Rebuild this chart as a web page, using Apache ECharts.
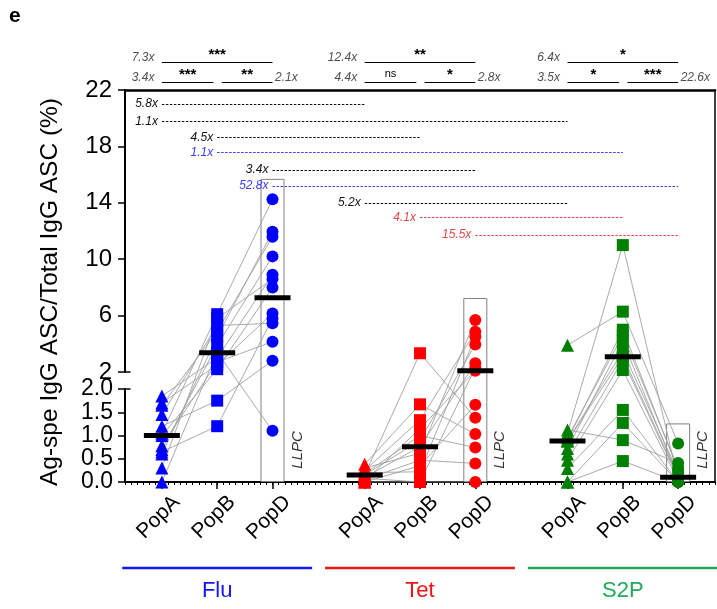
<!DOCTYPE html>
<html>
<head>
<meta charset="utf-8">
<script src="https://cdn.jsdelivr.net/npm/echarts@6.0.0/dist/echarts.min.js"></script>
<style>
  html, body { margin: 0; padding: 0; background: #fff; }
  #chart { width: 717px; height: 609px; }
</style>
</head>
<body>
<div id="chart"></div>
<script>
// ---- values ----
const groups = ["Flu", "Tet", "S2P"];
const pops = ["PopA", "PopB", "PopD"];

// one entry per donor, same donor order in A / B / D
const fluA = [1.85, 1.7, 1.65, 1.45, 1.2, 1.05, 1.0, 0.78, 0.7, 0.65, 0.6, 0.3, 0.0];
const fluB = [3.0, 2.5, 4.9, 5.3, 1.75, 6.1, 2.2, 2.7, 3.9, 1.2, 4.5, 5.8, 3.4];
const fluD = [8.9, 6.15, 11.6, 5.45, 2.8, 14.25, 8.0, 4.15, 10.2, 5.8, 11.95, 8.6, 1.1];

const tetA = [0.15, 0.38, 0.3, 0.25, 0.2, 0.18, 0.15, 0.1, 0.08, 0.05, 0.02, 0, 0];
const tetB = [3.33, 1.67, 0.62, 1.33, 0.22, 1.0, 0.9, 0.76, 0.0, 0.47, 1.15, 0.35, 0];
const tetD = [1.38, 1.03, 5.69, 4.85, 4.5, 0.74, 3.95, 2.62, 2.3, 0.4, 2.09, 1.66, 0];

const s2pA = [3.9, 1.12, 1.05, 0.95, 0.9, 0.88, 0.88, 0.72, 0.6, 0.47, 0.29, 0, 0];
const s2pB = [6.28, 0.9, 11.0, 4.6, 5.0, 3.5, 3.09, 4.2, 2.85, 2.14, 1.55, 1.27, 0.45];
const s2pD = [0.83, 0.41, 0.05, 0.3, 0.26, 0.2, 0.11, 0.1, 0.08, 0.03, 0, 0, 0];

// median bars
const medFlu = [1.0, 3.37, 7.27];
const medTet = [0.15, 0.76, 2.09];
const medS2P = [0.88, 3.09, 0.1];

// LLPC box heights
const llpcTop = [15.7, 7.25, 1.26];

// dashed comparisons between antigens: [group, pop] -> [group, pop]
const crossFold = ["5.8x", "1.1x", "4.5x", "1.1x", "3.4x", "52.8x", "5.2x", "4.1x", "15.5x"];
const crossFrom = [[0, 0], [0, 0], [0, 1], [0, 1], [0, 2], [0, 2], [1, 0], [1, 1], [1, 2]];
const crossTo   = [[1, 0], [2, 0], [1, 1], [2, 1], [1, 2], [2, 2], [2, 0], [2, 1], [2, 2]];

// brackets above the plot, one per antigen
const topFold = ["7.3x", "12.4x", "6.4x"];
const topStars = ["***", "**", "*"];
const abFold = ["3.4x", "4.4x", "3.5x"];
const abStars = ["***", "ns", "*"];
const bdFold = ["2.1x", "2.8x", "22.6x"];
const bdStars = ["**", "*", "***"];

// ---- layout / style ----
const FONT = "Liberation Sans, Arial, sans-serif";
const dotColors = ["#0000ff", "#ff0000", "#008000"];
const groupColors = ["#1414f0", "#f01414", "#20a85a"];
const crossColors = ["#111", "#111", "#111", "#3b3bff", "#111", "#3b3bff", "#111", "#e04848", "#e04848"];
const crossY = [21.0, 19.75, 18.65, 17.55, 16.33, 15.19, 14.0, 12.97, 11.72];
const shapes = ["triangle", "rect", "circle"];
const slot = [[0, 3, 6], [11, 14, 17], [22, 25, 28]]; // x slots, 1 unit = 1/3 of a column step
const xMin = -2, xMax = 30;
const L = 125, W = 590;
const LOW_H = 93, GAP_H = 17, UP_H = 282; // broken axis: 0-2 / gap / 2-22

// broken y scale used for marks that cross the break
function brk(v) {
  return v <= 2 ? v / 2 * LOW_H : LOW_H + GAP_H + (v - 2) / 20 * UP_H;
}

const values = [[fluA, fluB, fluD], [tetA, tetB, tetD], [s2pA, s2pB, s2pD]];
const medians = [medFlu, medTet, medS2P];
const flatSlots = [].concat(...slot);
const labelShift = 0.8;

const chart = echarts.init(document.getElementById("chart"));
const series = [];

// LLPC boxes
series.push({
  type: "bar", xAxisIndex: 2, yAxisIndex: 2, barWidth: 24, silent: true, z: 1,
  itemStyle: { color: "rgba(0,0,0,0)", borderColor: "#808080", borderWidth: 1 },
  data: groups.map((g, gi) => [slot[gi][2], brk(llpcTop[gi])]),
});

// donor lines
values.forEach((vals, gi) => {
  vals[0].forEach((_, si) => {
    series.push({
      type: "line", xAxisIndex: 2, yAxisIndex: 2, symbol: "none", silent: true, z: 2,
      lineStyle: { color: "#a0a0a0", width: 0.9 },
      data: vals.map((arr, pi) => [slot[gi][pi], brk(arr[si])]),
    });
  });
});

// points, split between the two panels
values.forEach((vals, gi) => {
  vals.forEach((arr, pi) => {
    const up = arr.filter((v) => v > 2);
    const lo = arr.filter((v) => v <= 2);
    [[up, 0], [lo, 1]].forEach(([list, ax]) => {
      if (!list.length) return;
      series.push({
        type: "scatter", xAxisIndex: ax, yAxisIndex: ax, symbol: shapes[pi],
        symbolSize: pi === 0 ? 13 : 12, clip: false, z: 3, silent: true,
        itemStyle: { color: dotColors[gi], opacity: 1 },
        data: list.map((v) => [slot[gi][pi], v]),
      });
    });
    const m = medians[gi][pi];
    const ax = m > 2 ? 0 : 1;
    series.push({
      type: "scatter", xAxisIndex: ax, yAxisIndex: ax, symbol: "rect",
      symbolSize: [36, 5], clip: false, z: 5, silent: true,
      itemStyle: { color: "#000", opacity: 1 },
      data: [[slot[gi][pi], m]],
    });
  });
});

// LLPC text
series.push({
  type: "scatter", xAxisIndex: 1, yAxisIndex: 1, symbolSize: 1, silent: true, z: 4,
  itemStyle: { color: "rgba(0,0,0,0)" },
  label: {
    show: true, position: "inside", formatter: "LLPC", rotate: 90,
    fontStyle: "italic", fontSize: 15, color: "#000", fontFamily: FONT,
  },
  data: groups.map((g, gi) => [slot[gi][2] + 1.35, 0.69]),
});

// dashed comparisons
series.push({
  type: "line", xAxisIndex: 0, yAxisIndex: 0, data: [], silent: true,
  markLine: {
    silent: true, symbol: ["none", "none"], animation: false,
    lineStyle: { type: [2.5, 1.5], width: 1 },
    label: { position: "start", distance: 4, fontStyle: "italic", fontSize: 12, fontFamily: FONT },
    data: crossFold.map((t, i) => [
      {
        coord: [slot[crossFrom[i][0]][crossFrom[i][1]], crossY[i]],
        lineStyle: { color: crossColors[i] },
        label: { formatter: t, color: crossColors[i] },
      },
      { coord: [slot[crossTo[i][0]][crossTo[i][1]], crossY[i]] },
    ]),
  },
});

// axis break caps
[0, 1].forEach((ax) => {
  series.push({
    type: "line", xAxisIndex: ax, yAxisIndex: ax, data: [], silent: true,
    markLine: {
      silent: true, symbol: ["none", "none"], animation: false,
      lineStyle: { type: "solid", width: 1.5, color: "#000" }, label: { show: false },
      data: [[{ coord: [xMin, 2] }, { coord: [xMin + 0.3, 2] }]],
    },
  });
});

// brackets above the plot
const bracketLines = [];
groups.forEach((g, gi) => {
  const [a, b, d] = slot[gi];
  const starLabel = (s) => ({
    formatter: s,
    fontSize: s === "ns" ? 11 : 15,
    fontWeight: s === "ns" ? "normal" : "bold",
    distance: s === "ns" ? 3 : 0,
  });
  bracketLines.push([{ coord: [a, 1], label: starLabel(topStars[gi]) }, { coord: [d, 1] }]);
  bracketLines.push([{ coord: [a, 0], label: starLabel(abStars[gi]) }, { coord: [b - 0.2, 0] }]);
  bracketLines.push([{ coord: [b + 0.25, 0], label: starLabel(bdStars[gi]) }, { coord: [d, 0] }]);
});
series.push({
  type: "line", xAxisIndex: 3, yAxisIndex: 3, data: [], silent: true,
  markLine: {
    silent: true, symbol: ["none", "none"], animation: false,
    lineStyle: { type: "solid", width: 1, color: "#000" },
    label: { position: "middle", color: "#000", fontFamily: FONT },
    data: bracketLines,
  },
});
const foldLabel = (pos, dist) => ({
  show: true, position: pos, distance: dist, offset: [0, -4],
  fontStyle: "italic", fontSize: 12, color: "#222", fontFamily: FONT,
  formatter: (p) => p.data[2],
});
series.push({
  type: "scatter", xAxisIndex: 3, yAxisIndex: 3, symbolSize: 1, silent: true,
  itemStyle: { color: "rgba(0,0,0,0)" }, label: foldLabel("left", 7),
  data: groups.flatMap((g, gi) => [[slot[gi][0], 1, topFold[gi]], [slot[gi][0], 0, abFold[gi]]]),
});
series.push({
  type: "scatter", xAxisIndex: 3, yAxisIndex: 3, symbolSize: 1, silent: true,
  itemStyle: { color: "rgba(0,0,0,0)" }, label: foldLabel("right", 2),
  data: groups.map((g, gi) => [slot[gi][2], 0, bdFold[gi]]),
});

const hiddenX = (gridIndex, extra) => Object.assign({
  type: "value", gridIndex, min: xMin, max: xMax,
  axisLine: { show: false, onZero: false }, axisTick: { show: false }, axisLabel: { show: false }, splitLine: { show: false },
}, extra);

const yStyle = {
  axisLine: { show: true, onZero: false, lineStyle: { color: "#000", width: 2 } },
  axisTick: { show: true, length: 7, lineStyle: { color: "#000", width: 1.5 } },
  splitLine: { show: false },
};

chart.setOption({
  animation: false,
  textStyle: { fontFamily: FONT },
  grid: [
    { left: L, top: 90, width: W, height: UP_H },
    { left: L, top: 90 + UP_H + GAP_H, width: W, height: LOW_H },
    { left: L, top: 90, width: W, height: LOW_H + GAP_H + UP_H },
    { left: L, top: 62, width: W, height: 20 },
  ],
  xAxis: [
    hiddenX(0, { position: "top", axisLine: { show: true, onZero: false, lineStyle: { color: "#000", width: 2.5 } } }),
    hiddenX(1, {
      position: "bottom", interval: 1,
      axisLine: { show: true, onZero: false, lineStyle: { color: "#000", width: 2 } },
      axisTick: { show: true, length: 3, lineStyle: { color: "#000", width: 1 } },
      minorTick: { show: true, splitNumber: 3, length: 3, lineStyle: { color: "#000", width: 1 } },
      axisLabel: {
        show: true, rotate: 45, margin: 17, fontSize: 21, color: "#000", fontFamily: FONT,
        customValues: flatSlots.map((s) => s + labelShift),
        formatter: (v) => {
          const i = flatSlots.findIndex((s) => Math.abs(s + labelShift - v) < 0.01);
          return i < 0 ? "" : pops[i % 3];
        },
      },
    }),
    hiddenX(2, {
      position: "bottom",
      axisTick: { show: true, customValues: flatSlots, length: 7, lineStyle: { color: "#000", width: 1.5 } },
    }),
    hiddenX(3, { position: "bottom" }),
  ],
  yAxis: [
    Object.assign({
      type: "value", gridIndex: 0, min: 2, max: 22, interval: 4,
      axisLabel: { fontSize: 24, margin: 13, color: "#000", fontFamily: FONT },
    }, yStyle),
    Object.assign({
      type: "value", gridIndex: 1, min: 0, max: 2, interval: 0.5,
      axisLabel: { fontSize: 23, margin: 12, color: "#000", fontFamily: FONT, formatter: (v) => v.toFixed(1) },
    }, yStyle),
    {
      type: "value", gridIndex: 2, min: 0, max: brk(22), position: "right",
      axisLine: { show: true, onZero: false, lineStyle: { color: "#000", width: 1.5 } },
      axisTick: { show: false }, axisLabel: { show: false }, splitLine: { show: false },
    },
    {
      type: "value", gridIndex: 3, min: 0, max: 1, show: false,
    },
  ],
  series: series,
});

// antigen group labels under the axis
const graphics = [
  { type: "text", left: 9, top: 6, style: { text: "e", font: "bold 21px " + FONT, fill: "#000" } },
  {
    type: "text", x: 50, y: 292, rotation: Math.PI / 2,
    style: { text: "Ag-spe IgG ASC/Total IgG ASC (%)", font: "24.5px " + FONT, fill: "#000", align: "center", verticalAlign: "middle" },
  },
];
groups.forEach((g, gi) => {
  const c = slot[gi][1];
  const p1 = chart.convertToPixel({ gridIndex: 1 }, [c - 5.15, 0]);
  const p2 = chart.convertToPixel({ gridIndex: 1 }, [c + 5.15, 0]);
  const pc = chart.convertToPixel({ gridIndex: 1 }, [c, 0]);
  graphics.push({
    type: "line", shape: { x1: p1[0], y1: 568, x2: p2[0], y2: 568 },
    style: { stroke: groupColors[gi], lineWidth: 2.5 },
  });
  graphics.push({
    type: "text", x: pc[0], y: 591,
    style: { text: g, font: "22px " + FONT, fill: groupColors[gi], align: "center", verticalAlign: "middle" },
  });
});
chart.setOption({ graphic: graphics });
</script>
</body>
</html>
